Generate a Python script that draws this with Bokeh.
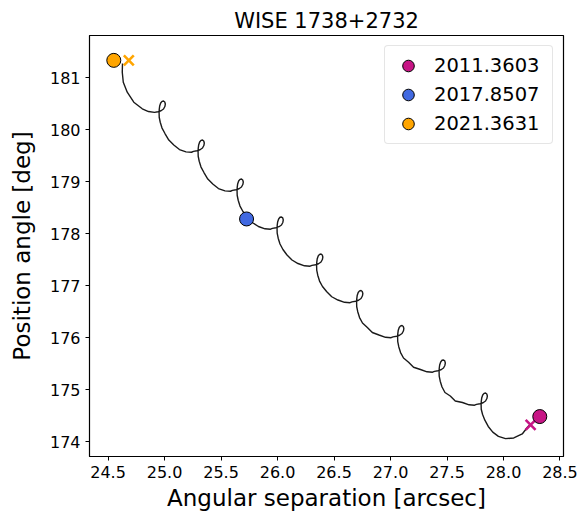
from bokeh.plotting import figure
from bokeh.models import Range1d, FixedTicker, Legend, LegendItem
from bokeh.embed import file_html
from bokeh.resources import INLINE

# ---- data ----
track_x = [24.628, 24.626, 24.635, 24.670, 24.728, 24.803, 24.858,
           24.911, 24.942, 24.969, 24.991, 25.003, 25.007, 25.002, 24.991, 24.978, 24.966, 24.957, 24.953, 24.952,
           24.953, 24.962, 24.978, 25.004, 25.038, 25.082, 25.132, 25.190, 25.239,
           25.256, 25.287, 25.314, 25.336, 25.348, 25.352, 25.347, 25.336, 25.323, 25.311, 25.302, 25.298, 25.297,
           25.298, 25.307, 25.323, 25.349, 25.383, 25.427, 25.477, 25.535, 25.584,
           25.601, 25.632, 25.659, 25.681, 25.693, 25.697, 25.692, 25.681, 25.668, 25.656, 25.647, 25.643, 25.642,
           25.643, 25.652, 25.668, 25.694, 25.732, 25.776, 25.831, 25.889, 25.938,
           25.955, 25.986, 26.013, 26.035, 26.047, 26.051, 26.046, 26.035, 26.022, 26.010, 26.001, 25.997, 25.996,
           25.997, 26.006, 26.022, 26.048, 26.084, 26.128, 26.181, 26.239, 26.288,
           26.305, 26.336, 26.363, 26.385, 26.397, 26.401, 26.396, 26.385, 26.372, 26.360, 26.351, 26.347, 26.346,
           26.347, 26.356, 26.372, 26.398, 26.436, 26.480, 26.535, 26.593, 26.642,
           26.659, 26.690, 26.717, 26.739, 26.751, 26.755, 26.750, 26.739, 26.726, 26.714, 26.705, 26.701, 26.700,
           26.701, 26.710, 26.726, 26.752, 26.795, 26.839, 26.898, 26.956, 27.005,
           27.022, 27.053, 27.080, 27.102, 27.114, 27.118, 27.113, 27.102, 27.089, 27.077, 27.068, 27.064, 27.063,
           27.064, 27.073, 27.089, 27.115, 27.160, 27.204, 27.265, 27.323, 27.372,
           27.389, 27.420, 27.447, 27.469, 27.481, 27.485, 27.480, 27.469, 27.456, 27.444, 27.435, 27.431, 27.430,
           27.431, 27.440, 27.456, 27.482, 27.529, 27.573, 27.637, 27.695, 27.744,
           27.761, 27.792, 27.819, 27.841, 27.853, 27.857, 27.852, 27.841, 27.828, 27.816, 27.807, 27.803, 27.802,
           27.803, 27.815, 27.835, 27.865, 27.905, 27.955, 28.018, 28.091, 28.166, 28.210, 28.235]
track_y = [181.269, 181.102, 180.910, 180.717, 180.525, 180.398, 180.346,
           180.330, 180.342, 180.361, 180.394, 180.442, 180.490, 180.530, 180.548, 180.542, 180.509, 180.451, 180.384, 180.317,
           180.236, 180.140, 180.028, 179.923, 179.798, 179.702, 179.615, 179.571, 179.563,
           179.580, 179.592, 179.611, 179.644, 179.692, 179.740, 179.780, 179.798, 179.792, 179.759, 179.701, 179.634, 179.567,
           179.486, 179.390, 179.278, 179.173, 179.048, 178.952, 178.865, 178.821, 178.813,
           178.830, 178.842, 178.861, 178.894, 178.942, 178.990, 179.030, 179.048, 179.042, 179.009, 178.951, 178.884, 178.817,
           178.736, 178.640, 178.528, 178.423, 178.308, 178.212, 178.135, 178.091, 178.083,
           178.100, 178.112, 178.131, 178.164, 178.212, 178.260, 178.300, 178.318, 178.312, 178.279, 178.221, 178.154, 178.087,
           178.006, 177.910, 177.798, 177.693, 177.587, 177.491, 177.423, 177.379, 177.371,
           177.388, 177.400, 177.419, 177.452, 177.500, 177.548, 177.588, 177.606, 177.600, 177.567, 177.509, 177.442, 177.375,
           177.294, 177.198, 177.086, 176.981, 176.880, 176.784, 176.721, 176.677, 176.669,
           176.686, 176.698, 176.717, 176.750, 176.798, 176.846, 176.886, 176.904, 176.898, 176.865, 176.807, 176.740, 176.673,
           176.592, 176.496, 176.384, 176.279, 176.192, 176.096, 176.048, 176.004, 175.996,
           176.013, 176.025, 176.044, 176.077, 176.125, 176.173, 176.213, 176.231, 176.225, 176.192, 176.134, 176.067, 176.000,
           175.919, 175.823, 175.711, 175.606, 175.524, 175.428, 175.385, 175.341, 175.333,
           175.350, 175.362, 175.381, 175.414, 175.462, 175.510, 175.550, 175.568, 175.562, 175.529, 175.471, 175.404, 175.337,
           175.256, 175.160, 175.048, 174.943, 174.875, 174.779, 174.750, 174.706, 174.698,
           174.715, 174.727, 174.746, 174.779, 174.827, 174.875, 174.915, 174.933, 174.927, 174.894, 174.836, 174.769, 174.702,
           174.621, 174.520, 174.410, 174.290, 174.180, 174.100, 174.055, 174.068, 174.145, 174.270, 174.330]

epochs = ["2011.3603", "2017.8507", "2021.3631"]
epoch_x = [28.321, 25.726, 24.551]
epoch_y = [174.48, 178.28, 181.33]
epoch_colors = ["#C71585", "#4169E1", "#FFA500"]

cross_x = [28.240, 24.684]
cross_y = [174.32, 181.33]
cross_colors = ["#C71585", "#FFA500"]

x_ticks = [24.5, 25.0, 25.5, 26.0, 26.5, 27.0, 27.5, 28.0, 28.5]
x_tick_labels = ["24.5", "25.0", "25.5", "26.0", "26.5", "27.0", "27.5", "28.0", "28.5"]
y_ticks = [174, 175, 176, 177, 178, 179, 180, 181]
y_tick_labels = ["174", "175", "176", "177", "178", "179", "180", "181"]

FONT = "DejaVu Sans"

p = figure(width=582, height=519, output_backend="svg", toolbar_location=None,
           x_range=Range1d(24.336, 28.531), y_range=Range1d(173.712, 181.808),
           title="WISE 1738+2732",
           min_border_left=89, min_border_right=19, min_border_top=35, min_border_bottom=63)

p.title.align = "center"
p.title.text_font = FONT
p.title.text_font_size = "21px"
p.title.text_font_style = "normal"
p.title.text_color = "black"
p.title.standoff = 6

p.xgrid.visible = False
p.ygrid.visible = False
p.outline_line_color = "black"
p.outline_line_width = 1.2
p.background_fill_color = "white"
p.border_fill_color = "white"

p.xaxis.ticker = FixedTicker(ticks=x_ticks)
p.yaxis.ticker = FixedTicker(ticks=y_ticks)
p.xaxis.major_label_overrides = {t: l for t, l in zip(x_ticks, x_tick_labels)}
p.yaxis.major_label_overrides = {t: l for t, l in zip(y_ticks, y_tick_labels)}
p.xaxis.axis_label = "Angular separation [arcsec]"
p.yaxis.axis_label = "Position angle [deg]"
for ax in (p.xaxis, p.yaxis):
    ax.axis_label_text_font = FONT
    ax.axis_label_text_font_size = "23px"
    ax.axis_label_text_font_style = "normal"
    ax.axis_label_text_color = "black"
    ax.major_label_text_font = FONT
    ax.major_label_text_font_size = "16px"
    ax.major_label_text_color = "black"
    ax.minor_tick_line_color = None
    ax.major_tick_out = 4
    ax.major_tick_in = 0
    ax.major_tick_line_color = "black"
    ax.axis_line_color = "black"
    ax.major_label_standoff = 5
p.xaxis.axis_label_standoff = 4
p.yaxis.axis_label_standoff = 12

p.line(track_x, track_y, line_color="#1a1a1a", line_width=1.4, line_join="round")

p.scatter(cross_x, cross_y, marker="x", size=14, line_color=cross_colors, line_width=2.6)

items = []
for lab, x, y, c in zip(epochs, epoch_x, epoch_y, epoch_colors):
    r = p.scatter([x], [y], marker="circle", size=14, fill_color=c, line_color="black", line_width=1)
    items.append(LegendItem(label=lab, renderers=[r]))

legend = Legend(items=items, location="top_right")
legend.label_text_font = FONT
legend.label_text_font_size = "19.5px"
legend.label_text_color = "black"
legend.border_line_color = "#cccccc"
legend.border_line_width = 1
legend.background_fill_alpha = 0.8
legend.glyph_height = 29
legend.glyph_width = 36
legend.label_height = 20
legend.label_width = 113
legend.spacing = 0
legend.padding = 5
legend.margin = 10
legend.label_standoff = 8
if "border_radius" in Legend.properties():
    legend.border_radius = 4
p.add_layout(legend, "center")

open("out.html", "w").write(file_html(p, INLINE))
